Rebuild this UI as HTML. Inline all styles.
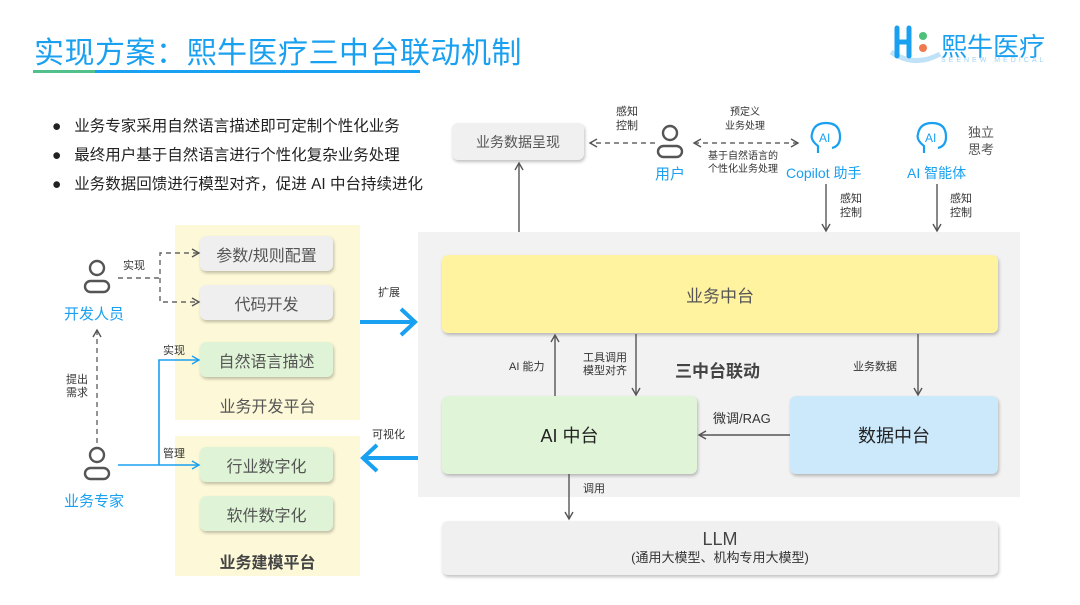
<!DOCTYPE html>
<html><head><meta charset="utf-8"><style>
body{margin:0;width:1080px;height:605px;background:#fff;position:relative;overflow:hidden;font-family:"Liberation Sans","Noto Sans CJK SC",sans-serif;}
.a{position:absolute;white-space:nowrap;}
.box{position:absolute;border-radius:6px;box-shadow:1px 2px 3px rgba(0,0,0,0.25);display:flex;align-items:center;justify-content:center;color:#555;}
.lb{position:absolute;font-size:11px;color:#333;line-height:14px;white-space:nowrap;}
.blue{color:#1aa0f0;}
</style></head><body>
<div class="a" style="left:34px;top:28px;font-size:30px;color:#1aa0f0;letter-spacing:0.5px;">实现方案：熙牛医疗三中台联动机制</div>
<div class="a" style="left:33px;top:70px;width:62px;height:3px;background:#52c08a"></div>
<div class="a" style="left:95px;top:70px;width:325px;height:3px;background:#1aa0f0"></div>
<!-- logo -->
<svg class="a" style="left:885px;top:22px" width="60" height="45"><path d="M6 30 Q30 46 55 32" stroke="#bfe2f8" stroke-width="5" fill="none"/><path d="M12 6 V34 M12 20 H24 M24 6 V34" stroke="#1aa0f0" stroke-width="5" fill="none" stroke-linecap="round"/><circle cx="38" cy="14" r="4" fill="#4fc07a"/><circle cx="38" cy="26" r="4" fill="#f07a50"/></svg>
<div class="a" style="left:941px;top:27px;font-size:26px;color:#1aa0f0;letter-spacing:0px">熙牛医疗</div>
<div class="a" style="left:941px;top:57px;font-size:7px;color:#9fd3f5;letter-spacing:3px">SEENEW MEDICAL</div>
<!-- bullets -->
<div class="a" style="left:52px;top:112px;font-size:15.5px;color:#222;line-height:29px">
<div>●&nbsp;&nbsp;&nbsp;业务专家采用自然语言描述即可定制个性化业务</div>
<div>●&nbsp;&nbsp;&nbsp;最终用户基于自然语言进行个性化复杂业务处理</div>
<div>●&nbsp;&nbsp;&nbsp;业务数据回馈进行模型对齐，促进 AI 中台持续进化</div>
</div>
<!-- panels -->
<div class="a" style="left:418px;top:232px;width:602px;height:265px;background:#f2f2f2"></div>
<div class="a" style="left:175px;top:225px;width:185px;height:195px;background:#fdf9d8"></div>
<div class="a" style="left:175px;top:436px;width:185px;height:140px;background:#fdf9d8"></div>
<div class="box" style="left:452px;top:123px;width:132px;height:37px;background:#f0f0f0;font-size:14px">业务数据呈现</div>
<div class="box" style="left:200px;top:236px;width:133px;height:35px;background:#efefef;font-size:16px">参数/规则配置</div>
<div class="box" style="left:200px;top:285px;width:133px;height:35px;background:#efefef;font-size:16px">代码开发</div>
<div class="box" style="left:200px;top:342px;width:133px;height:35px;background:#dff4d6;font-size:16px">自然语言描述</div>
<div class="box" style="left:200px;top:447px;width:133px;height:35px;background:#dff4d6;font-size:16px">行业数字化</div>
<div class="box" style="left:200px;top:496px;width:133px;height:35px;background:#dff4d6;font-size:16px">软件数字化</div>
<div class="a" style="left:175px;top:393px;width:185px;text-align:center;font-size:16px;color:#555">业务开发平台</div>
<div class="a" style="left:175px;top:549px;width:185px;text-align:center;font-size:16px;color:#444;font-weight:bold">业务建模平台</div>
<div class="box" style="left:442px;top:255px;width:556px;height:78px;background:#fff3a0;font-size:17px">业务中台</div>
<div class="box" style="left:442px;top:396px;width:255px;height:78px;background:#e0f5d8;font-size:18px;color:#222">AI 中台</div>
<div class="box" style="left:790px;top:396px;width:208px;height:78px;background:#cce9fb;font-size:18px;color:#222">数据中台</div>
<div class="box" style="left:442px;top:521px;width:556px;height:54px;background:#f0f0f0;flex-direction:column;color:#444"><div style="font-size:18px;line-height:20px">LLM</div><div style="font-size:13px;line-height:18px;color:#333">(通用大模型、机构专用大模型)</div></div>
<div class="a" style="left:675px;top:357px;font-size:17px;font-weight:bold;color:#444">三中台联动</div>
<svg class="a" style="left:0;top:0" width="1080" height="605">
<defs>
<marker id="g" markerWidth="10" markerHeight="10" refX="8" refY="5" orient="auto" markerUnits="userSpaceOnUse"><path d="M1 1 L8 5 L1 9" fill="none" stroke="#555" stroke-width="1.4"/></marker>
<marker id="b" markerWidth="10" markerHeight="10" refX="8" refY="5" orient="auto" markerUnits="userSpaceOnUse"><path d="M1 1 L8 5 L1 9" fill="none" stroke="#1aa0f0" stroke-width="1.4"/></marker>
<marker id="gs" markerWidth="10" markerHeight="10" refX="2" refY="5" orient="auto" markerUnits="userSpaceOnUse"><path d="M9 1 L2 5 L9 9" fill="none" stroke="#555" stroke-width="1.4"/></marker>
</defs>
<g stroke="#555" stroke-width="1.4" fill="none">
<line x1="519" y1="232" x2="519" y2="163" marker-end="url(#g)"/>
<line x1="826" y1="184" x2="826" y2="231" marker-end="url(#g)"/>
<line x1="937" y1="184" x2="937" y2="231" marker-end="url(#g)"/>
<line x1="555" y1="396" x2="555" y2="335" marker-end="url(#g)"/>
<line x1="636" y1="334" x2="636" y2="395" marker-end="url(#g)"/>
<line x1="918" y1="334" x2="918" y2="395" marker-end="url(#g)"/>
<line x1="790" y1="435" x2="699" y2="435" marker-end="url(#g)"/>
<line x1="569" y1="474" x2="569" y2="519" marker-end="url(#g)"/>
<g stroke-dasharray="5,4" stroke="#666">
<line x1="655" y1="143" x2="590" y2="143" marker-end="url(#g)"/>
<line x1="694" y1="143" x2="798" y2="143" marker-start="url(#gs)" marker-end="url(#g)"/>
<polyline points="118,278 160,278"/>
<polyline points="198,253 160,253 160,302 198,302"/>
<line x1="198" y1="253" x2="199" y2="253" marker-end="url(#g)"/>
<line x1="198" y1="302" x2="199" y2="302" marker-end="url(#g)"/>
<line x1="97" y1="443" x2="97" y2="330" marker-end="url(#g)"/>
</g>
</g>
<g stroke="#1aa0f0" stroke-width="1.6" fill="none">
<polyline points="118,465 198,465"/>
<polyline points="159,465 159,360 198,360"/>
<line x1="197" y1="465" x2="199" y2="465" marker-end="url(#b)"/>
<line x1="197" y1="360" x2="199" y2="360" marker-end="url(#b)"/>
</g>
<g stroke="#1aa0f0" stroke-width="4" fill="none">
<line x1="360" y1="322" x2="414" y2="322"/><polyline points="401,309 415,322 401,335"/>
<line x1="418" y1="458" x2="364" y2="458"/><polyline points="377,445 363,458 377,471"/>
</g>
<g stroke="#555" stroke-width="2.4" fill="none">
<circle cx="670" cy="133" r="7"/><rect x="658" y="146" width="24" height="11" rx="5.5"/>
<circle cx="97" cy="268" r="7"/><rect x="85" y="281" width="24" height="11" rx="5.5"/>
<circle cx="97" cy="455" r="7"/><rect x="85" y="468" width="24" height="11" rx="5.5"/>
</g>
<g stroke="#1aa0f0" stroke-width="2.2" fill="none">
<path d="M818 153 V146 Q810 140 812 134 Q814 123 826 123 Q840 123 840 137 Q840 146 832 148"/>
<path d="M924 153 V146 Q916 140 918 134 Q920 123 932 123 Q946 123 946 137 Q946 146 938 148"/>
</g>
<text x="819" y="142" font-size="12" fill="#1aa0f0" font-family="Liberation Sans">AI</text>
<text x="925" y="142" font-size="12" fill="#1aa0f0" font-family="Liberation Sans">AI</text>
</svg>
<div class="lb" style="left:616px;top:105px">感知<br>控制</div>
<div class="lb" style="left:725px;top:106px;text-align:center;font-size:10px">预定义<br>业务处理</div>
<div class="lb" style="left:708px;top:150px;text-align:center;font-size:10px;line-height:13px">基于自然语言的<br>个性化业务处理</div>
<div class="a blue" style="left:655px;top:163px;font-size:15px">用户</div>
<div class="a blue" style="left:786px;top:163px;font-size:14px">Copilot 助手</div>
<div class="a blue" style="left:907px;top:163px;font-size:14px">AI 智能体</div>
<div class="a" style="left:968px;top:124px;font-size:13px;color:#555;line-height:17px">独立<br>思考</div>
<div class="lb" style="left:840px;top:192px">感知<br>控制</div>
<div class="lb" style="left:950px;top:192px">感知<br>控制</div>
<div class="lb" style="left:509px;top:360px">AI 能力</div>
<div class="lb" style="left:583px;top:352px;line-height:13px">工具调用<br>模型对齐</div>
<div class="lb" style="left:853px;top:360px">业务数据</div>
<div class="a" style="left:713px;top:408px;font-size:13px;color:#333">微调/RAG</div>
<div class="lb" style="left:583px;top:482px">调用</div>
<div class="lb" style="left:123px;top:259px">实现</div>
<div class="lb" style="left:163px;top:344px">实现</div>
<div class="lb" style="left:163px;top:447px">管理</div>
<div class="lb" style="left:66px;top:374px;line-height:13px">提出<br>需求</div>
<div class="lb" style="left:378px;top:286px">扩展</div>
<div class="lb" style="left:372px;top:428px">可视化</div>
<div class="a blue" style="left:64px;top:303px;font-size:15px">开发人员</div>
<div class="a blue" style="left:64px;top:490px;font-size:15px">业务专家</div>
</body></html>
